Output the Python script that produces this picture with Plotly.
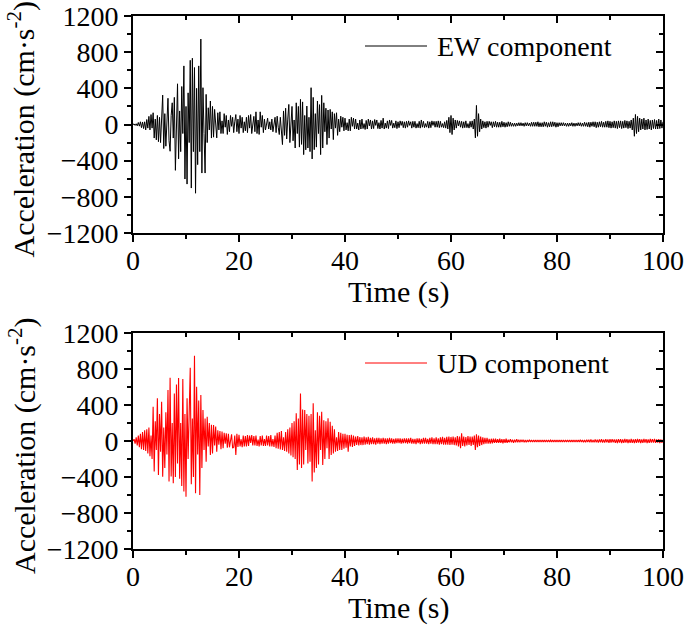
import numpy as np
import plotly.graph_objects as go

# ---------------- data (0.2 s steps) ----------------
dt = 0.2
ew_acc = [
    0, 6, -10, 8, -15,
    22, -18, 30, -35, 28,
    -45, 30, -60, 55, -40,
    90, -60, 110, -40, 130,
    -150, 60, -170, 100, -190,
    80, -200, 150, 325, -266,
    120, -240, 60, 290, -180,
    -296, 100, 240, -150, 300,
    -507, 200, 450, -380, 150,
    -300, 420, -100, 648, -603,
    200, -659, 350, -200, 710,
    -703, 733, -300, 630, -760,
    400, -444, 648, -300, 945,
    -537, 407, -100, -537, 333,
    -200, 185, -60, 260, -150,
    200, -140, 167, -40, -148,
    130, -60, 140, -100, 40,
    -100, 120, -30, 100, -110,
    50, -80, 100, -20, 80,
    -90, 30, 110, -80, 60,
    -100, 100, -40, 80, -90,
    30, -70, 80, -90, 100,
    -40, 110, -100, 20, 90,
    -80, 140, -100, 50, -110,
    140, -30, 100, -90, 60,
    -60, 20, 70, -50, 30,
    -60, 60, -80, 20, 80,
    -90, 92, -30, -111, 80,
    -60, -222, 150, -120, 180,
    -160, 60, 222, -200, 90,
    200, -180, 50, -260, 240,
    -100, 200, -250, 278, -220,
    250, -333, 100, -280, 204,
    -260, 80, -300, 407, -381,
    300, -278, 120, -250, 260,
    -100, 220, -333, 322, -260,
    240, -80, 180, -222, 160,
    -150, 167, -50, 140, -167,
    120, -40, 130, -120, 60,
    -80, 92, -30, 80, -70,
    70, -60, 20, -70, 60,
    -70, 80, -20, 70, -50,
    60, -50, 15, -60, 50,
    -50, 60, -45, 10, -55,
    45, -50, 60, -15, 50,
    -50, 40, -45, 55, -10,
    50, -45, 20, -50, 45,
    -40, 70, -50, 15, -40,
    40, -45, 50, -10, 45,
    -40, 15, -35, 40, -45,
    30, -35, 40, -10, 35,
    -35, 30, -40, 35, -30,
    40, -10, 30, -40, 35,
    -30, 35, -40, 10, -35,
    35, -40, 50, -30, 35,
    -35, 10, -30, 35, -40,
    30, -35, 40, -10, 35,
    -30, 35, -30, 40, -35,
    35, -30, 10, -35, 30,
    -40, 45, -50, 80, -90,
    100, -111, 70, -60, 50,
    -40, 45, -15, 40, -30,
    35, -40, 30, -35, 40,
    -35, 10, -40, 35, -30,
    40, -50, 60, -148, 211,
    -130, 120, -80, 60, -50,
    40, -35, 30, -40, 35,
    -30, 35, -10, 30, -35,
    30, -25, 35, -30, 25,
    -30, 25, -30, 35, -25,
    25, -30, 20, -25, 30,
    -20, 25, -20, 15, -20,
    15, -20, 15, -15, 20,
    -15, 20, -15, 15, -20,
    20, -15, 20, -15, 15,
    -20, 25, -20, 25, -20,
    25, -20, 30, -25, 20,
    -25, 20, -25, 30, -20,
    25, -30, 20, -25, 30,
    -25, 30, -20, 25, -30,
    20, -25, 20, -15, 20,
    -15, 20, -15, 15, -20,
    15, -20, 15, -15, 20,
    -20, 15, -20, 15, -15,
    20, -15, 20, -20, 15,
    -20, 25, -20, 20, -25,
    25, -30, 25, -20, 30,
    -25, 30, -35, 25, -30,
    30, -25, 35, -30, 25,
    -30, 35, -30, 40, -35,
    35, -40, 30, -35, 40,
    -40, 35, -45, 40, -35,
    40, -45, 35, -40, 45,
    -35, 40, -45, 35, -40,
    50, -60, 70, -130, 111,
    -100, 90, -80, 70, -60,
    60, -50, 70, -60, 50,
    -55, 60, -50, 45, -60,
    50, -45, 55, -50, 45,
    -50, 60, -45, 50, -40,
    30,
]

ud_acc = [
    0, 20, -30, 40, -50,
    60, -70, 80, -90, 100,
    -100, 120, -110, 130, -140,
    150, -170, 60, -200, 381,
    -340, 220, -100, 474, -377,
    300, -120, 437, -396, 150,
    -300, 320, -150, 566, -451,
    703, -395, 200, -470, 529,
    -400, 629, -250, 700, -420,
    200, -500, 690, -562, 300,
    -618, 474, -200, 400, 814,
    -480, 250, -400, 947, -581,
    603, -150, 450, -600, 510,
    -300, 344, -100, 250, -230,
    270, -60, 200, -155, 180,
    -140, 178, -50, 160, -118,
    120, -40, 110, -90, 104,
    -80, 90, -30, 85, -75,
    80, -70, 30, 75, -80,
    -70, 60, -155, 80, -65,
    70, -60, 20, -70, 60,
    -60, 55, -60, 65, -55,
    60, -20, 65, -50, 55,
    -50, 60, -55, 15, -60,
    55, -50, 60, -55, 20,
    -55, 60, -50, 55, -60,
    65, -60, 20, -65, 60,
    -80, 90, -85, 100, -95,
    110, -100, 40, -110, 100,
    -120, 130, -140, 150, -160,
    200, -180, 220, -200, 307,
    -322, 250, -260, 529, -300,
    350, -260, 344, -100, 300,
    -250, 280, -230, 300, -451,
    418, -350, 120, -300, 320,
    -260, 280, -100, 325, -266,
    230, -200, 220, -80, 252,
    -200, 215, -155, 170, -140,
    130, -120, 40, -110, 100,
    -100, 90, -100, 80, -85,
    80, -75, 70, -118, 65,
    -60, 70, -65, 60, -55,
    50, -45, 55, -50, 45,
    -45, 40, -45, 50, -40,
    40, -35, 45, -40, 35,
    -35, 40, -35, 30, -40,
    35, -30, 35, -35, 30,
    -30, 35, -30, 30, -35,
    30, -30, 35, -25, 30,
    -30, 25, -30, 30, -25,
    30, -25, 30, -30, 25,
    -25, 30, -25, 30, -30,
    30, -25, 35, -30, 25,
    -30, 25, -35, 30, -25,
    30, -35, 25, -30, 35,
    -30, 35, -30, 25, -35,
    35, -30, 40, -35, 30,
    -35, 40, -35, 30, -40,
    40, -35, 45, -40, 35,
    -40, 45, -40, 50, -45,
    45, -40, 50, -45, 40,
    -50, 55, -60, 50, -81,
    85, -55, 50, -60, 45,
    -50, 55, -45, 50, -55,
    50, -45, 60, -100, 74,
    -70, 60, -55, 50, -45,
    40, -35, 35, -30, 35,
    -30, 25, -30, 25, -25,
    25, -20, 25, -20, 20,
    -20, 25, -20, 20, -25,
    20, -20, 25, -20, 15,
    -15, 20, -15, 15, -20,
    15, -15, 20, -15, 15,
    -15, 15, -12, 15, -15,
    12, -15, 12, -10, 15,
    -12, 10, -12, 12, -10,
    10, -12, 10, -10, 12,
    -10, 12, -10, 10, -12,
    12, -10, 12, -10, 10,
    -10, 12, -10, 12, -10,
    10, -12, 10, -10, 12,
    -12, 10, -12, 10, -10,
    12, -10, 12, -12, 10,
    -10, 12, -10, 12, -12,
    12, -10, 15, -12, 10,
    -15, 12, -15, 15, -12,
    15, -15, 18, -15, 12,
    -15, 18, -15, 15, -18,
    18, -15, 20, -18, 15,
    -18, 20, -15, 18, -20,
    20, -18, 20, -15, 18,
    -20, 18, -22, 20, -18,
    20, -22, 18, -20, 22,
    -18, 20, -22, 18, -20,
    22, -20, 18, -22, 20,
    -20, 22, -18, 20, -22,
    18, -20, 22, -18, 20,
    -22, 18, -20, 22, -18,
    20, -18, 22, -20, 18,
    -18, 20, -22, 18, -20,
    15,
]

series_names = ["EW component", "UD component"]
x_tick_vals = [0, 20, 40, 60, 80, 100]
y_tick_vals = [-1200, -800, -400, 0, 400, 800, 1200]
x_title = "Time (s)"
y_title = "Acceleration (cm·s<sup>-2</sup>)"

t_ew = np.arange(len(ew_acc)) * dt
t_ud = np.arange(len(ud_acc)) * dt

# ---------------- figure ----------------
OFF = 0                      # page body margin is removed by the post script
W, H = 685 - OFF, 625 - OFF
FONT = "Liberation Serif, Times New Roman, serif"

def px_x(p):
    return (p - OFF) / W

def px_y(p):
    return 1 - (p - OFF) / H

xdom = [px_x(133), px_x(663)]
ydom_top = [px_y(233), px_y(16)]
ydom_bot = [px_y(549), px_y(333)]

fig = go.Figure()
fig.add_trace(go.Scatter(x=t_ew, y=ew_acc, mode="lines", name=series_names[0],
                         line=dict(color="black", width=1),
                         xaxis="x", yaxis="y", showlegend=False))
fig.add_trace(go.Scatter(x=t_ud, y=ud_acc, mode="lines", name=series_names[1],
                         line=dict(color="#ff0000", width=1.1),
                         xaxis="x2", yaxis="y2", showlegend=False))
# invisible helpers so the mirrored inside-tick axes are drawn
for xa, ya in [("x3", "y3"), ("x4", "y4")]:
    fig.add_trace(go.Scatter(x=[None], y=[None], mode="markers", xaxis=xa, yaxis=ya,
                             showlegend=False, hoverinfo="skip"))

tickfont = dict(family=FONT, size=28, color="black")

def main_x(anchor):
    return dict(domain=xdom, anchor=anchor, range=[0, 100], tickvals=x_tick_vals,
                ticks="outside", ticklen=7, tickwidth=1.5, tickcolor="black",
                minor=dict(dtick=10, ticks="outside", ticklen=4, tickwidth=1.5, tickcolor="black"),
                showline=True, linecolor="black", linewidth=1.8, mirror=True,
                showgrid=False, zeroline=False, tickfont=tickfont, fixedrange=True,
                ticklabelstandoff=-6, ticklabeloverflow="allow")

def main_y(dom, anchor):
    return dict(domain=dom, anchor=anchor, range=[-1200, 1200], tickvals=y_tick_vals,
                ticks="outside", ticklen=7, tickwidth=1.5, tickcolor="black",
                minor=dict(dtick=200, ticks="outside", ticklen=4, tickwidth=1.5, tickcolor="black"),
                showline=True, linecolor="black", linewidth=1.8, mirror=True,
                showgrid=False, zeroline=False, tickfont=tickfont, fixedrange=True,
                ticklabeloverflow="allow")

def over_x(over, anchor):
    return dict(overlaying=over, anchor=anchor, side="top", range=[0, 100], tickvals=x_tick_vals,
                ticks="inside", ticklen=7, tickwidth=1.5, tickcolor="black",
                minor=dict(dtick=10, ticks="inside", ticklen=4, tickwidth=1.5, tickcolor="black"),
                showticklabels=False, showline=False, showgrid=False, zeroline=False)

def over_y(over, anchor):
    return dict(overlaying=over, anchor=anchor, side="right", range=[-1200, 1200], tickvals=y_tick_vals,
                ticks="inside", ticklen=7, tickwidth=1.5, tickcolor="black",
                minor=dict(dtick=200, ticks="inside", ticklen=4, tickwidth=1.5, tickcolor="black"),
                showticklabels=False, showline=False, showgrid=False, zeroline=False)

annotations = []
shapes = []
for i, (ytop, ybot) in enumerate([(16, 233), (333, 549)]):
    # y axis title
    annotations.append(dict(text=y_title, xref="paper", yref="paper",
                            x=px_x(22), y=px_y((ytop + ybot) / 2 + 5), textangle=-90,
                            showarrow=False, xanchor="center", yanchor="middle",
                            font=dict(family=FONT, size=30, color="black")))
    # x axis title
    annotations.append(dict(text=x_title, xref="paper", yref="paper",
                            x=px_x(398), y=px_y(ybot + 59), showarrow=False,
                            xanchor="center", yanchor="middle",
                            font=dict(family=FONT, size=30, color="black")))
    # legend
    ly = ytop + 30
    shapes.append(dict(type="line", xref="paper", yref="paper",
                       x0=px_x(365), x1=px_x(427), y0=px_y(ly), y1=px_y(ly),
                       line=dict(color=["black", "#ff0000"][i], width=1)))
    annotations.append(dict(text=series_names[i], xref="paper", yref="paper",
                            x=px_x(435), y=px_y(ly), showarrow=False,
                            xanchor="left", yanchor="middle",
                            font=dict(family=FONT, size=28, color="black")))

fig.update_layout(
    width=W, height=H, template="none",
    margin=dict(l=0, r=0, t=0, b=0),
    paper_bgcolor="white", plot_bgcolor="white",
    xaxis=main_x("y"), yaxis=main_y(ydom_top, "x"),
    xaxis2=main_x("y2"), yaxis2=main_y(ydom_bot, "x2"),
    xaxis3=over_x("x", "y"), yaxis3=over_y("y", "x"),
    xaxis4=over_x("x2", "y2"), yaxis4=over_y("y2", "x2"),
    annotations=annotations, shapes=shapes,
    showlegend=False,
)

fig.write_html("out.html", config={"displayModeBar": False},
               post_script="document.body.style.margin='0';document.body.style.overflow='hidden';")
